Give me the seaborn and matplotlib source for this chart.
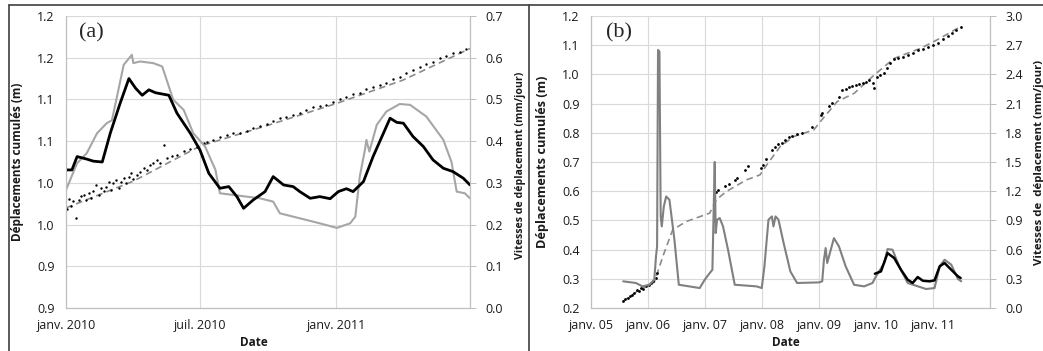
import numpy as np
import pandas as pd
import matplotlib
matplotlib.use("Agg")
import matplotlib.pyplot as plt
import matplotlib.dates as mdates
import seaborn as sns

# ---------------- panel (a) : janv. 2010 -> juil. 2011 (days from 2010-01-01)
a_black_days = [0, 8, 15, 28, 37, 49, 60, 73, 85, 94, 103, 112, 121, 139, 150, 168, 181,
                193, 208, 220, 231, 240, 253, 269, 280, 294, 307, 316, 330, 343, 357,
                368, 379, 388, 402, 415, 427, 438, 447, 456, 469, 483, 496, 510, 523, 537, 546]
a_black_speed = [0.331, 0.331, 0.363, 0.357, 0.352, 0.350, 0.420, 0.490, 0.550, 0.527, 0.510,
                 0.523, 0.516, 0.510, 0.467, 0.419, 0.379, 0.323, 0.287, 0.291, 0.267, 0.239,
                 0.259, 0.279, 0.315, 0.295, 0.291, 0.279, 0.263, 0.267, 0.262, 0.279, 0.286,
                 0.279, 0.303, 0.363, 0.411, 0.455, 0.445, 0.443, 0.411, 0.387, 0.355, 0.335,
                 0.327, 0.311, 0.295]

a_gray_days = [0, 15, 28, 42, 55, 62, 67, 78, 89, 91, 100, 118, 130, 136, 145, 159, 172, 188,
               202, 208, 226, 262, 280, 289, 316, 343, 366, 384, 391, 397, 404, 406, 410, 420,
               433, 451, 465, 487, 510, 521, 528, 539, 546]
a_gray_speed = [0.283, 0.347, 0.371, 0.419, 0.443, 0.450, 0.491, 0.583, 0.607, 0.587, 0.591,
                0.587, 0.579, 0.547, 0.499, 0.475, 0.419, 0.387, 0.331, 0.275, 0.271, 0.263,
                0.255, 0.227, 0.215, 0.203, 0.192, 0.203, 0.219, 0.315, 0.379, 0.403, 0.375,
                0.439, 0.471, 0.489, 0.487, 0.459, 0.403, 0.350, 0.279, 0.275, 0.263]

a_trend_days = [0, 91, 181, 273, 365, 455, 546]
a_trend_disp = [0.970, 1.002, 1.044, 1.069, 1.095, 1.123, 1.161]

a_dot_days = [1, 4, 7, 10, 14, 17, 20, 24, 27, 31, 34, 37, 41, 44, 47, 51, 54, 58, 61, 64,
              68, 71, 74, 78, 81, 85, 88, 91, 96, 100, 105, 109, 114, 118, 123, 127, 132, 136,
              143, 150, 159, 168, 177, 184, 186, 190, 199, 208, 217, 226, 235, 244, 253, 262,
              271, 280, 289, 298, 307, 316, 325, 334, 343, 352, 361, 370, 379, 388, 397, 406,
              415, 424, 433, 442, 451, 460, 469, 478, 487, 496, 505, 514, 523, 532, 541]
a_dot_disp = [0.9685, 0.9805, 0.9725, 0.9777, 0.9577, 0.9797, 0.9837, 0.9857, 0.9797, 0.9877,
              0.9817, 0.9908, 0.9976, 0.9857, 0.9936, 0.9897, 0.9956, 1.0016, 0.9916, 0.9996,
              1.0036, 0.9936, 1.0016, 1.0056, 0.9996, 1.0076, 1.0116, 1.0044, 1.0096, 1.0136,
              1.0176, 1.0156, 1.0216, 1.0244, 1.0276, 1.0236, 1.0455, 1.0296, 1.0316, 1.0336,
              1.0376, 1.0403, 1.0435, 1.0316, 1.0475, 1.0495, 1.0515, 1.0547, 1.0575, 1.0595,
              1.0603, 1.0627, 1.0655, 1.0683, 1.0706, 1.0746, 1.0774, 1.0794, 1.0814, 1.0842,
              1.0874, 1.0906, 1.0922, 1.0934, 1.0970, 1.1002, 1.1034, 1.1066, 1.1082, 1.1121,
              1.1145, 1.1173, 1.1201, 1.1241, 1.1265, 1.1313, 1.1353, 1.1393, 1.1425, 1.1453,
              1.1493, 1.1520, 1.1552, 1.1572, 1.1600]

a_left_ticks = [0.85, 0.90, 0.95, 1.00, 1.05, 1.10, 1.15, 1.20]
a_left_labels = ["0.9", "0.9", "1.0", "1.0", "1.1", "1.1", "1.2", "1.2"]
a_right_ticks = [0.0, 0.1, 0.2, 0.3, 0.4, 0.5, 0.6, 0.7]
a_x_ticks = ["2010-01-01", "2010-07-01", "2011-01-01", "2011-07-01"]
a_x_labels = ["janv. 2010", "juil. 2010", "janv. 2011", ""]

# ---------------- panel (b) : janv. 2005 -> janv. 2012
b_gray_dates = ["2005-07-28", "2005-10-17", "2005-11-29", "2006-01-11", "2006-02-12",
                "2006-02-23", "2006-03-02", "2006-03-08", "2006-03-17", "2006-03-25",
                "2006-04-01", "2006-04-14", "2006-04-29", "2006-05-20", "2006-06-21",
                "2006-07-19", "2006-11-30", "2007-01-01", "2007-02-02", "2007-02-19",
                "2007-02-27", "2007-03-06", "2007-03-12", "2007-03-21", "2007-04-07",
                "2007-04-28", "2007-05-30", "2007-07-12", "2007-11-29", "2008-01-01",
                "2008-01-18", "2008-02-13", "2008-03-06", "2008-03-16", "2008-03-29",
                "2008-04-17", "2008-05-20", "2008-07-02", "2008-08-14", "2009-01-01",
                "2009-01-22", "2009-02-02", "2009-02-13", "2009-02-23", "2009-03-12",
                "2009-04-07", "2009-05-09", "2009-06-21", "2009-08-14", "2009-10-17",
                "2009-12-10", "2010-01-01", "2010-02-23", "2010-03-16", "2010-04-17",
                "2010-05-30", "2010-07-23", "2010-11-18", "2011-01-11", "2011-02-13",
                "2011-03-16", "2011-04-28", "2011-06-10", "2011-07-01"]
b_gray_speed = [0.274, 0.257, 0.222, 0.239, 0.291, 0.530, 0.633, 2.651, 2.634, 0.941,
                0.838, 1.043, 1.146, 1.112, 0.701, 0.239, 0.205, 0.291, 0.359, 0.393,
                1.000, 1.500, 0.770, 0.907, 0.924, 0.838, 0.599, 0.239, 0.222, 0.205,
                0.428, 0.907, 0.941, 0.838, 0.941, 0.907, 0.667, 0.376, 0.257, 0.263,
                0.274, 0.496, 0.616, 0.462, 0.564, 0.718, 0.633, 0.428, 0.239, 0.222,
                0.257, 0.325, 0.462, 0.605, 0.599, 0.428, 0.257, 0.195, 0.205, 0.428,
                0.496, 0.445, 0.298, 0.274]

b_black_dates = ["2009-12-25", "2010-02-02", "2010-03-16", "2010-04-28", "2010-06-10",
                 "2010-07-23", "2010-08-24", "2010-09-25", "2010-10-28", "2010-12-10",
                 "2011-01-11", "2011-02-13", "2011-03-16", "2011-04-28", "2011-06-10",
                 "2011-06-27"]
b_black_speed = [0.352, 0.376, 0.564, 0.513, 0.393, 0.291, 0.257, 0.318, 0.280, 0.274,
                 0.284, 0.428, 0.462, 0.393, 0.325, 0.308]

b_trend_dates = ["2005-07-28", "2005-11-10", "2006-02-12", "2006-04-08", "2006-06-10",
                 "2006-09-04", "2007-02-02", "2007-03-17", "2007-05-19", "2007-09-26",
                 "2007-12-21", "2008-02-02", "2008-04-28", "2008-07-23", "2008-11-29",
                 "2009-01-11", "2009-04-28", "2009-08-14", "2009-12-21", "2010-04-28",
                 "2010-10-17", "2011-02-02", "2011-06-21"]
b_trend_disp = [0.223, 0.263, 0.288, 0.377, 0.468, 0.496, 0.525, 0.571, 0.599, 0.639,
                0.656, 0.690, 0.753, 0.787, 0.810, 0.839, 0.907, 0.935, 0.998, 1.055,
                1.090, 1.120, 1.162]

b_dot_dates = ["2005-07-28", "2005-08-10", "2005-08-25", "2005-09-09", "2005-09-22",
               "2005-10-07", "2005-10-22", "2005-11-04", "2005-11-19", "2005-12-04",
               "2005-12-21", "2006-01-07", "2006-01-22", "2006-02-06", "2006-02-23",
               "2006-03-02", "2007-03-17", "2007-03-28", "2007-05-10", "2007-06-07",
               "2007-07-13", "2007-07-28", "2007-09-16", "2007-10-03", "2007-12-26",
               "2008-01-12", "2008-01-29", "2008-03-06", "2008-03-28", "2008-04-17",
               "2008-05-09", "2008-05-31", "2008-06-22", "2008-07-13", "2008-08-14",
               "2008-09-15", "2008-11-18", "2009-01-11", "2009-01-22", "2009-03-06",
               "2009-03-28", "2009-05-09", "2009-05-31", "2009-06-21", "2009-07-13",
               "2009-08-03", "2009-08-25", "2009-09-15", "2009-10-07", "2009-10-28",
               "2009-11-19", "2009-12-10", "2009-12-21", "2010-01-07", "2010-01-28",
               "2010-02-19", "2010-03-12", "2010-04-03", "2010-04-28", "2010-05-24",
               "2010-06-21", "2010-07-23", "2010-08-24", "2010-09-25", "2010-10-28",
               "2010-11-29", "2011-01-01", "2011-02-02", "2011-03-06", "2011-04-07",
               "2011-05-03", "2011-05-31", "2011-06-27"]
b_dot_disp = [0.2228, 0.2308, 0.2342, 0.2422, 0.2456, 0.2513, 0.2604, 0.2570, 0.2684, 0.2650,
              0.2741, 0.2798, 0.2855, 0.2912, 0.3026, 0.3197, 0.5957, 0.6025, 0.6162, 0.6253,
              0.6390, 0.6447, 0.6732, 0.6846, 0.6789, 0.6903, 0.7097, 0.7416, 0.7530, 0.7621,
              0.7667, 0.7758, 0.7850, 0.7895, 0.7952, 0.8009, 0.8214, 0.8613, 0.8694, 0.8921,
              0.9013, 0.9218, 0.9469, 0.9491, 0.9560, 0.9605, 0.9640, 0.9674, 0.9720, 0.9754,
              0.9811, 0.9697, 0.9526, 0.9902, 0.9971, 1.0062, 1.0210, 1.0381, 1.0518, 1.0552,
              1.0609, 1.0666, 1.0746, 1.0837, 1.0883, 1.0951, 1.1008, 1.1088, 1.1202, 1.1316,
              1.1430, 1.1521, 1.1635]

b_left_ticks = [0.2, 0.3, 0.4, 0.5, 0.6, 0.7, 0.8, 0.9, 1.0, 1.1, 1.2]
b_right_ticks = [0.0, 0.3, 0.6, 0.9, 1.2, 1.5, 1.8, 2.1, 2.4, 2.7, 3.0]
b_x_ticks = ["2005-01-01", "2006-01-01", "2007-01-01", "2008-01-01", "2009-01-01",
             "2010-01-01", "2011-01-01", "2012-01-01"]
b_x_labels = ["janv. 05", "janv. 06", "janv. 07", "janv. 08", "janv. 09",
              "janv. 10", "janv. 11", ""]

# ---------------- style
sns.set_style("white")
plt.rcParams["font.family"] = ["Open Sans", "DejaVu Sans"]
GRID = "#d9d9d9"
AXIS = "#bfbfbf"
TXT = "#1a1a1a"
DASH = (0, (4, 2.5))
TICK_FS = 9


def days_to_dates(start, days):
    return pd.Timestamp(start) + pd.to_timedelta(days, unit="D")


def style_axes(ax, ax2, xticks, xlabels, xlim):
    ax.set_xlim(pd.Timestamp(xlim[0]), pd.Timestamp(xlim[1]))
    ax.set_xticks(pd.to_datetime(xticks))
    ax.set_xticklabels(xlabels)
    ax.xaxis.set_minor_locator(mdates.MonthLocator())
    ax.grid(True, which="major", color=GRID, lw=0.8)
    ax.tick_params(axis="x", which="major", length=0, pad=8, labelsize=TICK_FS, labelcolor=TXT)
    ax.tick_params(axis="x", which="minor", length=3, width=0.6, color=AXIS, direction="out")
    ax.tick_params(axis="y", length=0, pad=8, labelsize=TICK_FS, labelcolor=TXT)
    ax2.tick_params(axis="y", length=4, width=0.7, color=AXIS, pad=7, labelsize=TICK_FS,
                    labelcolor=TXT)
    for a in (ax, ax2):
        a.spines["top"].set_visible(False)
        for s in ("left", "right", "bottom"):
            a.spines[s].set_color(AXIS)
            a.spines[s].set_linewidth(0.8)
    ax.set_xlabel("Date", fontsize=8.5, fontweight="bold", labelpad=0, color=TXT)


fig = plt.figure(figsize=(10.43, 3.51), dpi=100)
W, H = 1043.0, 351.0

# ---------------- panel (a)
ax = fig.add_axes([66 / W, (H - 308) / H, 404 / W, 292 / H])
ax2 = ax.twinx()
sns.scatterplot(x=days_to_dates("2010-01-01", a_dot_days), y=a_dot_disp, ax=ax,
                color="black", s=3, linewidth=0, zorder=3)
sns.lineplot(x=days_to_dates("2010-01-01", a_trend_days), y=a_trend_disp, ax=ax,
             color="#8c8c8c", lw=1.2, linestyle=DASH, zorder=2)
sns.lineplot(x=days_to_dates("2010-01-01", a_gray_days), y=a_gray_speed, ax=ax2,
             color="#a6a6a6", lw=1.5)
sns.lineplot(x=days_to_dates("2010-01-01", a_black_days), y=a_black_speed, ax=ax2,
             color="black", lw=2.0)
ax.set_ylim(0.85, 1.20)
ax.set_yticks(a_left_ticks)
ax.set_yticklabels(a_left_labels)
ax2.set_ylim(0.0, 0.7)
ax2.set_yticks(a_right_ticks)
ax2.set_yticklabels([f"{v:.1f}" for v in a_right_ticks])
style_axes(ax, ax2, a_x_ticks, a_x_labels, ("2010-01-01", "2011-07-01"))
ax.xaxis.set_label_coords((254 - 66) / 404, -0.095)
ax.set_ylabel("Déplacements cumulés (m)", fontsize=8.5, fontweight="bold", color=TXT)
ax.yaxis.set_label_coords((24 - 66) / 404, 0.5)
ax2.set_ylabel("Vitesses de déplacement (mm/jour)", fontsize=7.6, fontweight="bold", color=TXT)
ax2.yaxis.set_label_coords((515 - 66) / 404, 0.49)
fig.text(79 / W, 1 - 33 / H, "(a)", fontsize=16, family="Liberation Serif", va="center")

# ---------------- panel (b)
bx = fig.add_axes([590.7 / W, (H - 308) / H, 399.3 / W, 292 / H])
bx2 = bx.twinx()
sns.scatterplot(x=pd.to_datetime(b_dot_dates), y=b_dot_disp, ax=bx,
                color="black", s=4, linewidth=0, zorder=3)
sns.lineplot(x=pd.to_datetime(b_trend_dates), y=b_trend_disp, ax=bx,
             color="#8c8c8c", lw=1.2, linestyle=DASH, zorder=2)
sns.lineplot(x=pd.to_datetime(b_gray_dates), y=b_gray_speed, ax=bx2,
             color="#808080", lw=1.5)
sns.lineplot(x=pd.to_datetime(b_black_dates), y=b_black_speed, ax=bx2,
             color="black", lw=1.8)
bx.set_ylim(0.2, 1.2)
bx.set_yticks(b_left_ticks)
bx.set_yticklabels([f"{v:.1f}" for v in b_left_ticks])
bx2.set_ylim(0.0, 3.0)
bx2.set_yticks(b_right_ticks)
bx2.set_yticklabels([f"{v:.1f}" for v in b_right_ticks])
style_axes(bx, bx2, b_x_ticks, b_x_labels, ("2005-01-01", "2012-01-01"))
bx.xaxis.set_label_coords(0.49, -0.095)
bx.set_ylabel("Déplacements cumulés (m)", fontsize=9.2, fontweight="bold", color=TXT)
bx.yaxis.set_label_coords((549 - 590.7) / 399.3, 0.5)
bx2.set_ylabel("Vitesses de  déplacement (mm/jour)", fontsize=8.2, fontweight="bold", color=TXT)
bx2.yaxis.set_label_coords((1034 - 590.7) / 399.3, 0.5)
fig.text(606 / W, 1 - 33 / H, "(b)", fontsize=16, family="Liberation Serif", va="center")

# ---------------- frame around the panels
frame = dict(color="#404040", lw=1.2, transform=fig.transFigure, clip_on=False)
fig.add_artist(plt.Line2D([9 / W, 1.0], [1 - 5 / H, 1 - 5 / H], **frame))
fig.add_artist(plt.Line2D([9 / W, 9 / W], [0, 1 - 5 / H], **frame))
fig.add_artist(plt.Line2D([529 / W, 529 / W], [0, 1 - 5 / H], **frame))

fig.savefig("out.png", dpi=100)
